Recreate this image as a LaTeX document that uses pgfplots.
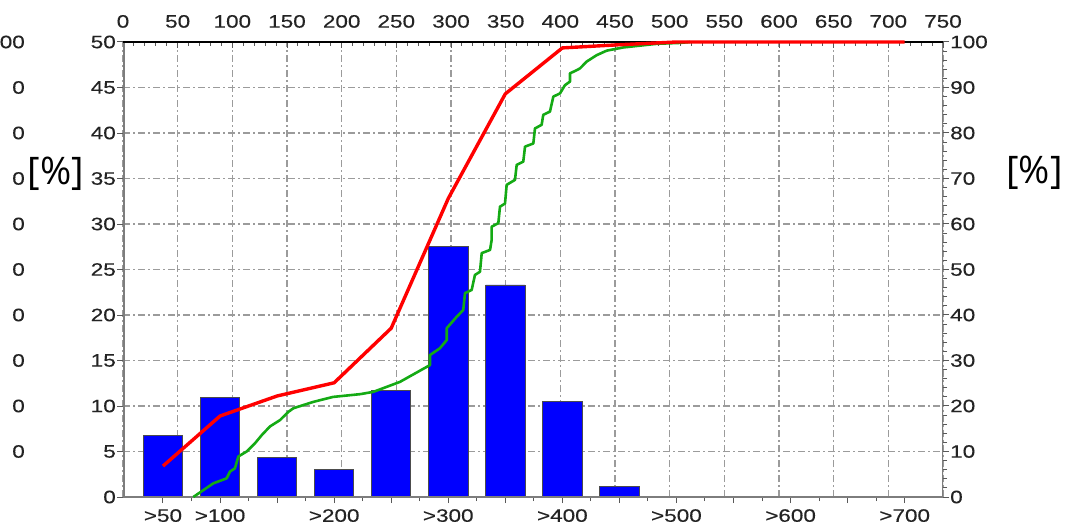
\documentclass[border=0pt]{standalone}
\usepackage{pgfplots}
\pgfplotsset{compat=1.18}
\usepackage{pgfplotstable}
\usepackage{fontspec}
\setmainfont{Liberation Sans}
\newfontfamily\tickfont[FakeStretch=1.25, FakeBold=0.3]{Liberation Sans}
\newfontfamily\pctfont{Open Sans}
\definecolor{barblue}{RGB}{0,0,255}
\definecolor{cumred}{RGB}{255,0,0}
\definecolor{cumgreen}{RGB}{20,170,20}
\definecolor{gridgray}{RGB}{155,155,155}
\definecolor{framegray}{RGB}{125,125,125}
\definecolor{labelgray}{RGB}{35,35,35}

\pgfplotstableread{
idx val
0 6.8
1 10.9
2 4.3
3 3.0
4 11.7
5 27.5
6 23.3
7 10.5
8 1.2
}\bars

\pgfplotstableread{
idx cum
0 6.8
1 17.8
2 22.2
3 25.1
4 37.1
5 65.6
6 88.6
7 98.7
8 99.4
9 100
10 100
11 100
12 100
13 100
}\cumred

\pgfplotstableread{
x y
64.3 0
82.6 3.0
94.8 4.1
97.9 5.6
102.4 6.3
105.5 8.9
113.1 10.0
120.7 11.8
126.9 13.6
134.4 15.5
143.6 16.9
151.2 18.7
155.8 19.5
174.0 20.9
192.3 22.0
216.8 22.6
228.9 23.1
253.3 25.3
280.8 29.0
280.8 31.2
289.9 32.7
296.1 34.5
296.1 37.1
305.2 39.6
311.2 41.1
312.8 44.8
318.9 45.5
321.9 48.8
326.5 49.5
328.1 53.6
335.7 54.3
337.2 56.5
337.2 59.4
343.3 60.2
344.8 63.8
349.4 64.5
350.9 68.6
358.5 69.7
360.1 73.0
366.1 73.7
367.7 77.0
375.3 77.7
376.8 81.0
382.9 81.8
384.4 84.0
390.5 84.7
393.6 88.0
399.7 88.7
404.2 90.5
408.8 91.3
408.8 93.1
414.9 93.8
418.0 94.2
424.1 95.7
433.2 97.1
442.4 98.1
457.6 98.8
472.9 99.2
488.1 99.6
509.4 99.8
518.6 100
}\cumgreen

\pgfplotsset{
  base/.style={
    scale only axis, width=820pt, height=455pt,
    at={(123pt,33pt)}, anchor=south west,
    axis line style={draw=none},
    /pgf/number format/assume math mode=true,
    tick label style={font=\tickfont\fontsize{18}{18}\selectfont, text=labelgray, inner sep=0pt},
    tick style={black!65, line width=1pt},
    major tick length=6pt, minor tick length=4pt,
    major grid style={gridgray, line width=1.1pt, dash pattern=on 7pt off 3pt on 2pt off 3pt},
  }
}

\begin{document}
\begin{tikzpicture}
\useasboundingbox (0,0) rectangle (1070pt,530pt);

% top axis (0..750) with vertical grid
\begin{axis}[base,
  xmin=0, xmax=750, ymin=0, ymax=50,
  xtick distance=50, minor x tick num=4,
  ytick=\empty,
  xtick pos=right, xticklabel pos=right,
  tick align=inside,
  xmajorgrids,
  xticklabel style={anchor=south, yshift=14pt},
]
\end{axis}

% bars on category axis, left axis 0..50
\begin{axis}[base,
  xmin=-0.701, xmax=13.672, ymin=0, ymax=50,
  xtick={0,...,13},
  xticklabels={>50,>100,,>200,,>300,,>400,,>500,,>600,,>700},
  minor x tick num=1,
  xtick pos=left, xticklabel pos=left,
  ytick distance=5, ytick pos=left, yticklabel pos=left,
  tick align=outside,
  ymajorgrids,
  xticklabel style={anchor=north, yshift=-6pt},
  yticklabel style={anchor=east, xshift=-1pt},
]
\addplot[ybar, bar width=0.69, bar shift=0pt, fill=barblue, draw=black!70, line width=0.8pt]
  table[x=idx, y=val]{\bars};
\draw[framegray, line width=3pt] (rel axis cs:0,1) -- (rel axis cs:0,0) -- (rel axis cs:1,0) -- (rel axis cs:1,1);
\draw[black, line width=2pt] (rel axis cs:0,1) -- (rel axis cs:1,1);
\end{axis}

% green cumulative curve (top axis scale, right axis scale)
\begin{axis}[base, xmin=0, xmax=750, ymin=0, ymax=100, hide axis, clip=false]
\addplot[cumgreen, line width=2.6pt, line join=round] table[x=x, y=y]{\cumgreen};
\end{axis}

% red cumulative curve and right axis 0..100
\begin{axis}[base,
  xmin=-0.701, xmax=13.672, ymin=0, ymax=100,
  hide x axis, clip=false,
  ytick distance=10, minor y tick num=4,
  ytick pos=right, yticklabel pos=right,
  tick align=outside,
  yticklabel style={anchor=west, xshift=1pt},
]
\addplot[cumred, line width=3.4pt, line join=round] table[x=idx, y=cum]{\cumred};
\end{axis}

% cropped labels of an outer scale at the far left
\begin{axis}[scale only axis, width=1pt, height=455pt, at={(25pt,33pt)}, anchor=south west,
  xmin=0, xmax=1, ymin=0, ymax=100, hide x axis, axis line style={draw=none},
  ytick={10,20,...,100}, yticklabels={0,0,0,0,0,0,0,0,0,00},
  ytick pos=left, major tick length=0pt,
  tick label style={font=\tickfont\fontsize{18}{18}\selectfont, text=labelgray, inner sep=0pt, anchor=east},
]
\end{axis}

\node[font=\pctfont\fontsize{38}{40}\selectfont, inner sep=0pt] at (56pt,356pt) {[\%]};
\node[font=\pctfont\fontsize{38}{40}\selectfont, inner sep=0pt] at (1034.5pt,357pt) {[\%]};
\end{tikzpicture}
\end{document}
